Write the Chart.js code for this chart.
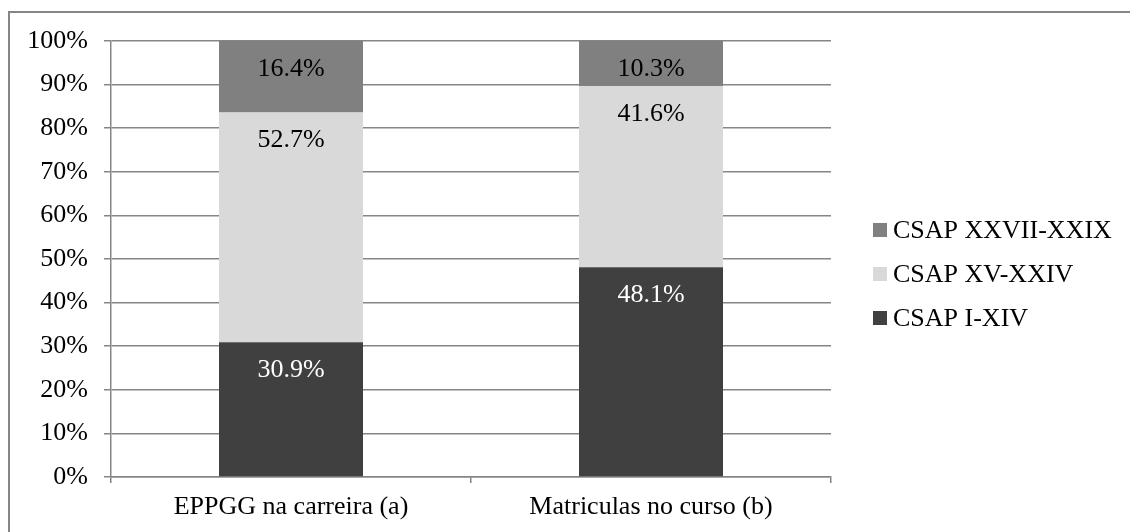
<!DOCTYPE html>
<html>
<head>
<meta charset="utf-8">
<script src="https://cdn.jsdelivr.net/npm/chart.js@4/dist/chart.umd.min.js"></script>
<style>
  html, body { margin: 0; padding: 0; background: #ffffff; }
  #wrap { width: 1130px; height: 532px; position: relative; }
  canvas { display: block; }
</style>
</head>
<body>
<div id="wrap"><canvas id="c" width="1130" height="532"></canvas></div>
<script>
// ---- data ----
const categories = ['EPPGG na carreira (a)', 'Matriculas no curso (b)'];
const seriesNames = ['CSAP I-XIV', 'CSAP XV-XXIV', 'CSAP XXVII-XXIX'];
const csapIXIV = [30.9, 48.1];
const csapXVXXIV = [52.7, 41.6];
const csapXXVIIXXIX = [16.4, 10.3];
const seriesColors = ['#404040', '#d9d9d9', '#808080'];
const labelColors = ['#ffffff', '#000000', '#000000'];

const FONT = "'Liberation Serif', 'Times New Roman', serif";
const GRID = '#868686';

const outerBorder = {
  id: 'outerBorder',
  beforeDraw(chart) {
    const ctx = chart.ctx;
    ctx.save();
    ctx.fillStyle = '#ffffff';
    ctx.fillRect(0, 0, chart.width, chart.height);
    ctx.strokeStyle = GRID;
    ctx.lineWidth = 2;
    ctx.strokeRect(9, 12, 1200, 600);
    ctx.restore();
  }
};

const barLabels = {
  id: 'barLabels',
  afterDatasetsDraw(chart) {
    const ctx = chart.ctx;
    ctx.save();
    ctx.font = '26px ' + FONT;
    ctx.textAlign = 'center';
    ctx.textBaseline = 'middle';
    chart.data.datasets.forEach((ds, i) => {
      const meta = chart.getDatasetMeta(i);
      meta.data.forEach((el, j) => {
        ctx.fillStyle = labelColors[i];
        ctx.fillText(ds.data[j].toFixed(1) + '%', el.x, el.y + 28);
      });
    });
    ctx.restore();
  }
};

const customLegend = {
  id: 'customLegend',
  afterDraw(chart) {
    const ctx = chart.ctx;
    ctx.save();
    ctx.font = '26px ' + FONT;
    ctx.textAlign = 'left';
    ctx.textBaseline = 'middle';
    const n = chart.data.datasets.length;
    const centers = [230, 274, 318];
    for (let k = 0; k < n; k++) {
      const i = n - 1 - k;
      const ds = chart.data.datasets[i];
      const cy = centers[k];
      ctx.fillStyle = ds.backgroundColor;
      ctx.fillRect(873, cy - 7, 14, 14);
      ctx.fillStyle = '#000000';
      ctx.fillText(ds.label, 893, cy + 1);
    }
    ctx.restore();
  }
};

const datasets = [csapIXIV, csapXVXXIV, csapXXVIIXXIX].map((vals, i) => ({
  label: seriesNames[i],
  data: vals,
  backgroundColor: seriesColors[i],
  borderWidth: 0,
  categoryPercentage: 1.0,
  barPercentage: 0.4
}));

new Chart(document.getElementById('c'), {
  type: 'bar',
  data: { labels: categories, datasets },
  options: {
    responsive: false,
    devicePixelRatio: 1,
    animation: false,
    layout: { padding: { left: 0, right: 299, top: 41, bottom: 0 } },
    plugins: {
      legend: { display: false },
      tooltip: { enabled: false }
    },
    scales: {
      x: {
        stacked: true,
        offset: true,
        grid: {
          offset: true,
          drawOnChartArea: false,
          drawTicks: true,
          tickLength: 6,
          color: GRID,
          lineWidth: 1.5
        },
        border: { display: true, color: GRID, width: 1.5 },
        ticks: {
          color: '#000000',
          font: { family: FONT, size: 26 },
          padding: 9,
          maxRotation: 0
        },
        afterFit(scale) { scale.height = 55; }
      },
      y: {
        stacked: true,
        min: 0,
        max: 100,
        grid: {
          color: GRID,
          lineWidth: 1.5,
          drawTicks: true,
          tickLength: 7
        },
        border: { display: true, color: GRID, width: 1.5 },
        ticks: {
          stepSize: 10,
          color: '#000000',
          font: { family: FONT, size: 26 },
          padding: 16,
          callback: (v) => v + '%'
        },
        afterFit(scale) { scale.width = 111; }
      }
    }
  },
  plugins: [outerBorder, barLabels, customLegend]
});
</script>
</body>
</html>
